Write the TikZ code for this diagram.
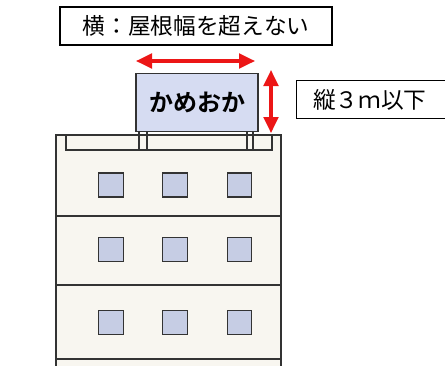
\documentclass[tikz,border=0pt]{standalone}
\usepackage{fontspec}
\usetikzlibrary{arrows.meta}
\newfontfamily\jp{Noto Sans CJK JP}
\newfontfamily\jpbold{Noto Sans CJK JP Bold}

\definecolor{signblue}{RGB}{214,220,242}
\definecolor{winblue}{RGB}{198,205,228}
\definecolor{wallwhite}{RGB}{248,246,240}
\definecolor{arrowred}{RGB}{236,22,22}

\begin{document}
\begin{tikzpicture}[x=0.75pt,y=0.75pt,yscale=-1,
  outline/.style={draw=black!80,line width=0.8pt},
  window/.style={outline,fill=winblue,minimum width=18.5pt,minimum height=18pt,inner sep=0pt},
  signbox/.style={outline,fill=signblue,minimum width=91.5pt,minimum height=44pt,inner sep=0pt,font=\jpbold\fontsize{18}{20}\selectfont},
  notebox/.style={draw,line width=0.9pt,fill=white,inner sep=0pt,font=\jp\fontsize{17}{20}\selectfont},
  redarrow/.style={arrowred,line width=2.3pt,{Triangle[length=12pt,width=11pt]}-{Triangle[length=12pt,width=11pt]}}]
\clip (0,0) rectangle (445,365);

%building body
\fill[wallwhite] (56,135) rectangle (281,370);
\draw[outline] (56,370) -- (56,135) -- (281,135) -- (281,370);
%roof parapet
\draw[outline] (66,135) -- (66,150) -- (272,150) -- (272,135);
%floor lines
\foreach \y in {216,285,359}
  \draw[outline] (56,\y) -- (281,\y);

%sign posts
\foreach \x in {139,147,247,253}
  \draw[outline] (\x,132) -- (\x,150);

%windows
\foreach \y [count=\r] in {185,249.5,322.5}
  \foreach \x [count=\c] in {111,175,239.5}
    \node[window] (win\r\c) at (\x,\y) {};

%sign board
\node[signbox] (sign) at (197,102.5) {かめおか};

%size limits
\coordinate (wleft) at (136,61);
\coordinate (wright) at (255,61);
\coordinate (htop) at (271,70);
\coordinate (hbot) at (271,133);
\draw[redarrow] (wleft) -- (wright);
\draw[redarrow] (htop) -- (hbot);

\node[notebox,minimum width=204pt,minimum height=28.5pt] (widthnote) at (196,26) {横：屋根幅を超えない};
\node[notebox,anchor=west,minimum height=29pt,inner xsep=12.5pt,text width=150pt] (heightnote) at (296,99.5) {縦３ｍ以下};

\end{tikzpicture}
\end{document}
